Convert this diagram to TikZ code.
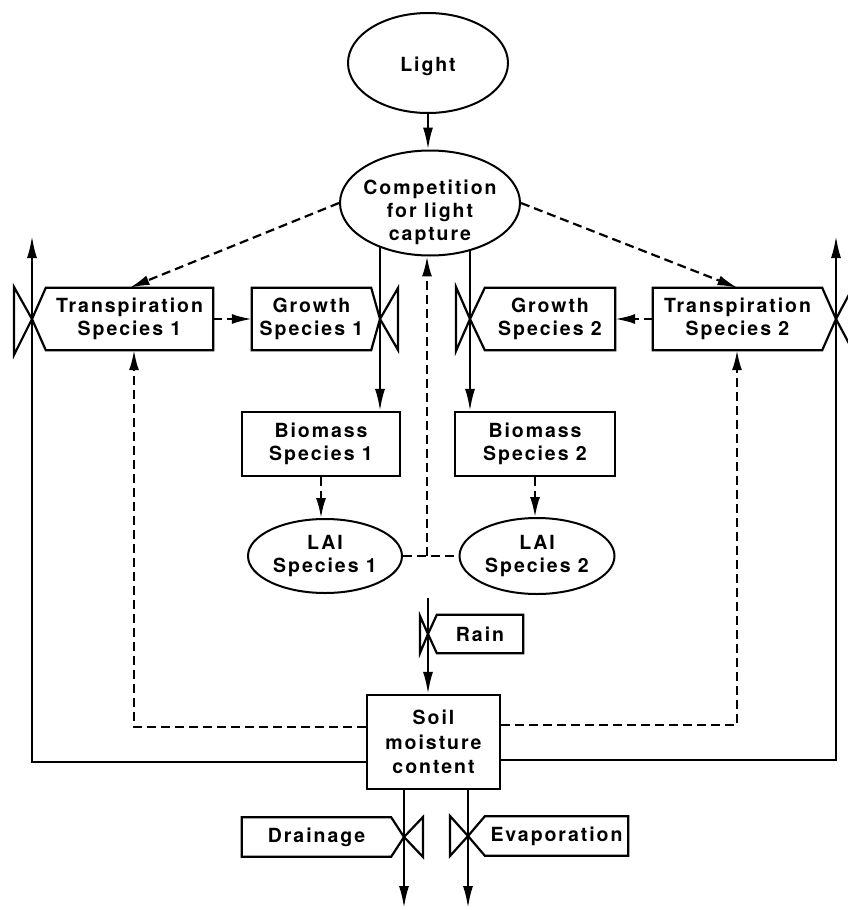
\documentclass[tikz,border=0pt]{standalone}
\usepackage{fontspec}
\setmainfont{TeX Gyre Heros}[LetterSpace=10]
\usepackage{tikz}
\usetikzlibrary{arrows.meta, shapes.geometric, positioning, calc}
\tikzset{lbl/.style={font=\bfseries\fontsize{19.5}{23}\selectfont, align=center, inner sep=0pt}}
\tikzset{oval/.style={ellipse, draw, line width=2pt, fill=white, inner sep=0pt}}
\tikzset{stock/.style={lbl, rectangle, draw, line width=2.2pt}}
\tikzset{ln/.style={line width=2.2pt, line join=miter}}
\tikzset{flow/.style={line width=2.2pt, -{Latex[length=22pt,width=10pt]}}}
\tikzset{info/.style={line width=2.2pt, dash pattern=on 9pt off 5pt, -{Latex[length=20pt,width=10pt]}}}
\tikzset{infoline/.style={line width=2.2pt, dash pattern=on 9pt off 5pt}}

\begin{document}
\begin{tikzpicture}[x=1pt, y=-1pt]
                                \useasboundingbox (0,0) rectangle (847,910);
                                \node[oval, minimum width=160pt, minimum height=100pt, label={[lbl, yshift=-3pt]center:Light}] (light) at (428,63) {};
                                \node[oval, minimum width=180pt, minimum height=105pt, label={[lbl, yshift=-9pt]center:{Competition\\for light\\capture}}] (comp) at (430,203) {};
                                \coordinate (v1) at (32,319);
                                \coordinate (v2) at (380,319);
                                \coordinate (v3) at (470,319);
                                \coordinate (v4) at (836,319);
                                \node[lbl, minimum width=167pt, minimum height=62pt] (trans1) at (129.5,319) {Transpiration\\Species 1};
                                \node[lbl, minimum width=119pt, minimum height=62pt] (growth1) at (311.5,319) {Growth\\Species 1};
                                \node[lbl, minimum width=130pt, minimum height=62pt] (growth2) at (550,319) {Growth\\Species 2};
                                \node[lbl, minimum width=169pt, minimum height=62pt] (trans2) at (737.5,319) {Transpiration\\Species 2};
                                \draw[ln] (trans1.north east) -- (trans1.south east) -- (trans1.south west) -- (v1) -- (trans1.north west) -- cycle;
                                \draw[ln] (growth1.north west) -- (growth1.north east) -- (v2) -- (growth1.south east) -- (growth1.south west) -- cycle;
                                \draw[ln] (growth2.north east) -- (growth2.south east) -- (growth2.south west) -- (v3) -- (growth2.north west) -- cycle;
                                \draw[ln] (trans2.north west) -- (trans2.north east) -- (v4) -- (trans2.south east) -- (trans2.south west) -- cycle;
                                \draw[ln] (v1) -- ++(-18,-32) -- ++(0,68) -- cycle;
                                \draw[ln] (v2) -- ++(18,-31) -- ++(0,62) -- cycle;
                                \draw[ln] (v3) -- ++(-14,-32) -- ++(0,64) -- cycle;
                                \draw[ln] (v4) -- ++(17,-32) -- ++(0,64) -- cycle;
                                \node[stock, minimum width=158pt, minimum height=64pt] (bio1) at (321,444) {Biomass\\Species 1};
                                \node[stock, minimum width=160pt, minimum height=64pt] (bio2) at (535,444) {Biomass\\Species 2};
                                \node[oval, minimum width=154pt, minimum height=74pt, label={[lbl]center:{LAI\\Species 1}}] (lai1) at (325,556) {};
                                \node[oval, minimum width=155pt, minimum height=76pt, label={[lbl]center:{LAI\\Species 2}}] (lai2) at (537,556) {};
                                \coordinate (vr) at (428,634);
                                \node[lbl, minimum width=86pt, minimum height=38pt] (rain) at (480,634) {Rain};
                                \draw[ln] (rain.north west) -- (rain.north east) -- (rain.south east) -- (rain.south west) -- (vr) -- cycle;
                                \draw[ln] (vr) -- ++(-8,-18) -- ++(0,37) -- cycle;
                                \node[stock, font=\bfseries\fontsize{19.5}{24.5}\selectfont, minimum width=133pt, minimum height=94pt] (soil) at (433.5,742) {Soil\\moisture\\content};
                                \coordinate (vd) at (404,837);
                                \coordinate (ve) at (468,836);
                                \node[lbl, minimum width=149pt, minimum height=39pt] (drain) at (316.5,837) {Drainage};
                                \node[lbl, minimum width=143pt, minimum height=39pt] (evap) at (556.5,836) {Evaporation};
                                \draw[ln] (drain.north west) -- (drain.north east) -- (vd) -- (drain.south east) -- (drain.south west) -- cycle;
                                \draw[ln] (evap.north east) -- (evap.south east) -- (evap.south west) -- (ve) -- (evap.north west) -- cycle;
                                \draw[ln] (vd) -- ++(19,-20) -- ++(0,40) -- cycle;
                                \draw[ln] (ve) -- ++(-18,-20) -- ++(0,40) -- cycle;
                                \coordinate (fl) at (32,762);
                                \coordinate (ftop1) at (32,236);
                                \coordinate (fr) at (836,760);
                                \coordinate (ftop2) at (836,236);
                                \coordinate (rtop) at (428,598);
                                \coordinate (dbot) at (404,908);
                                \coordinate (ebot) at (468,908);
                                \coordinate (d1) at (134,727);
                                \coordinate (d2) at (737,725);
                                \coordinate (lj) at (427,556);
                                \draw[flow] (light.south) -- (light.south |- comp.north);
                                \draw[flow] (v2 |- comp.221) -- (v2 |- bio1.north);
                                \draw[flow] (v3 |- comp.310) -- (v3 |- bio2.north);
                                \draw[flow] (soil.west |- fl) -- (fl) -- (ftop1);
                                \draw[flow] (soil.east |- fr) -- (fr) -- (ftop2);
                                \draw[flow] (rtop) -- (rtop |- soil.north);
                                \draw[flow] (dbot |- soil.south) -- (dbot);
                                \draw[flow] (ebot |- soil.south) -- (ebot);
                                \draw[info] (comp.west) -- (trans1.north);
                                \draw[info] (comp.east) -- (trans2.north);
                                \draw[info] (trans1.east) -- (growth1.west);
                                \draw[info] (trans2.west) -- (growth2.east);
                                \draw[info] (bio1.south) -- (bio1.south |- lai1.north);
                                \draw[info] (bio2.south) -- (bio2.south |- lai2.north);
                                \draw[infoline] (lai1.east) -- (lai2.west);
                                \draw[info] (lj) -- (lj |- comp.267);
                                \draw[info] (soil.west |- d1) -- (d1) -- (d1 |- trans1.south);
                                \draw[info] (soil.east |- d2) -- (d2) -- (d2 |- trans2.south);
                            \end{tikzpicture}
\end{document}
